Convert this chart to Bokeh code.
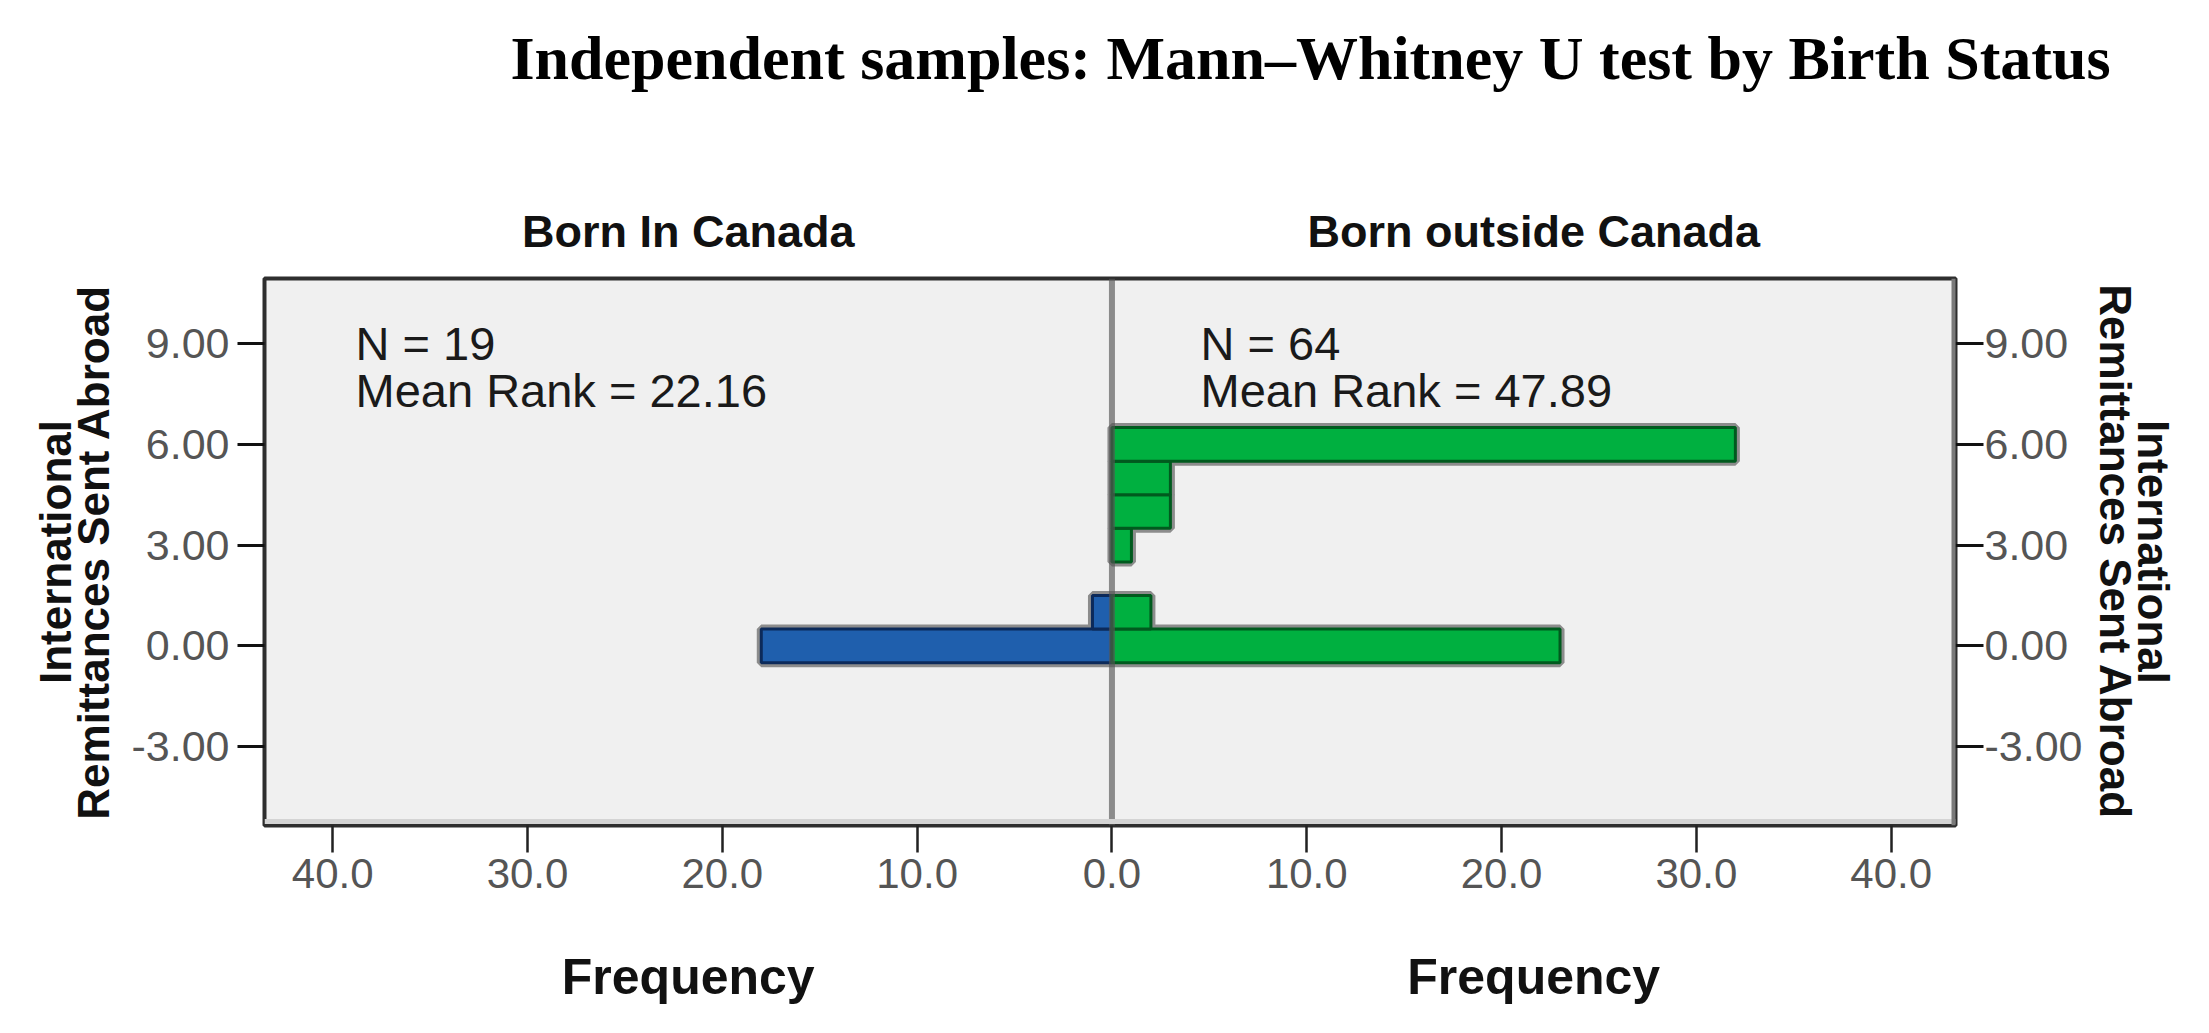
from bokeh.plotting import figure
from bokeh.models import (ColumnDataSource, Range1d, FixedTicker, LinearAxis,
                          NumeralTickFormatter, CustomJSTickFormatter, Span, Label)
from bokeh.embed import file_html
from bokeh.resources import INLINE

# ---- data ----
bins = [0, 1, 3, 4, 5, 6]                   # remittance bins (bar centres)
born_in_canada = [18, 1, 0, 0, 0, 0]        # frequencies, N = 19
born_outside_canada = [23, 2, 1, 3, 3, 32]  # frequencies, N = 64
y_ticks = [-3, 0, 3, 6, 9]
x_ticks = [-40, -30, -20, -10, 0, 10, 20, 30, 40]

title_text = "Independent samples: Mann\u2013Whitney U test by Birth Status"
group_names = ["Born In Canada", "Born outside Canada"]
group_n = ["N = 19", "N = 64"]
group_rank = ["Mean Rank = 22.16", "Mean Rank = 47.89"]
y_title = "International\nRemittances Sent Abroad"
x_title = "Frequency"

SANS = "Liberation Sans"
SERIF = "Liberation Serif"

X0, X1 = -43.5, 43.3
Y0, Y1 = -5.35, 10.94
FL, FR, FB = 264, 1955, 825   # page coords of frame left / right / bottom

p = figure(width=2193, height=1017, output_backend="svg", toolbar_location=None,
           x_range=Range1d(X0, X1), y_range=Range1d(Y0, Y1), title=None,
           min_border_left=FL, min_border_right=2193 - FR, min_border_top=278,
           min_border_bottom=1017 - FB)
p.background_fill_color = "#f0f0f0"
p.border_fill_color = "white"
p.outline_line_color = "#2e2e2e"
p.outline_line_width = 4
p.grid.visible = False

# ---- bars ----
left = ColumnDataSource(dict(
    y=[b for b, v in zip(bins, born_in_canada) if v > 0],
    left=[-v for v in born_in_canada if v > 0],
    right=[0 for v in born_in_canada if v > 0]))
right = ColumnDataSource(dict(
    y=[b for b, v in zip(bins, born_outside_canada) if v > 0],
    left=[0 for v in born_outside_canada if v > 0],
    right=[v for v in born_outside_canada if v > 0]))

for src in (left, right):
    p.hbar(y="y", left="left", right="right", height=1.0, source=src,
           fill_color=None, line_color="#8c8c8c", line_width=9)
p.hbar(y="y", left="left", right="right", height=1.0, source=left,
       fill_color="#1f5fad", line_color="#0c2a5a", line_width=3)
p.hbar(y="y", left="left", right="right", height=1.0, source=right,
       fill_color="#00b040", line_color="#005a1e", line_width=3)

# centre line
p.add_layout(Span(location=0, dimension="height", line_color="#555555",
                  line_alpha=0.65, line_width=6))
# light band above bottom border, grey right border
p.add_layout(Span(location=Y0 + 0.12, dimension="width", line_color="#d4d4d4",
                  line_width=5))
p.add_layout(Span(location=X1, dimension="height", line_color="#7a7a7a",
                  line_width=8))

# ---- axes ----
def style_y(ax, tick_out, standoff, label_standoff):
    ax.ticker = FixedTicker(ticks=y_ticks)
    ax.formatter = NumeralTickFormatter(format="0.00")
    ax.major_tick_out = tick_out
    ax.major_tick_in = 0
    ax.major_tick_line_width = 3
    ax.major_tick_line_color = "#111111"
    ax.minor_tick_line_color = None
    ax.axis_line_color = None
    ax.major_label_text_font = SANS
    ax.major_label_text_font_size = "43px"
    ax.major_label_text_color = "#555555"
    ax.major_label_standoff = standoff
    ax.axis_label = y_title
    ax.axis_label_text_font = SANS
    ax.axis_label_text_font_style = "bold"
    ax.axis_label_text_font_size = "44px"
    ax.axis_label_text_color = "#111111"
    ax.axis_label_text_line_height = 0.78
    ax.axis_label_standoff = label_standoff

style_y(p.yaxis[0], 27, 8, 10)
ry = LinearAxis()
style_y(ry, 28, 1, 5)
p.add_layout(ry, "right")

xa = p.xaxis[0]
xa.ticker = FixedTicker(ticks=x_ticks)
xa.formatter = CustomJSTickFormatter(code="return Math.abs(tick).toFixed(1)")
xa.major_tick_out = 27
xa.major_tick_in = 0
xa.major_tick_line_width = 2.5
xa.major_tick_line_color = "#222222"
xa.minor_tick_line_color = None
xa.axis_line_color = None
xa.major_label_text_font = SANS
xa.major_label_text_font_size = "42px"
xa.major_label_text_color = "#555555"
xa.major_label_standoff = 6


def page_to_x(px):
    return X0 + (px - FL) / (FR - FL) * (X1 - X0)


def text_axis(side, ticks, text_list, font, size, standoff, color="#111111"):
    ax = LinearAxis(ticker=FixedTicker(ticks=ticks),
                    formatter=CustomJSTickFormatter(
                        args=dict(names=text_list),
                        code="return tick < 0 ? names[0] : names[names.length - 1]"))
    ax.major_tick_out = 0
    ax.major_tick_in = 0
    ax.major_tick_line_color = None
    ax.minor_tick_line_color = None
    ax.axis_line_color = None
    ax.major_label_text_font = font
    ax.major_label_text_font_style = "bold"
    ax.major_label_text_font_size = size
    ax.major_label_text_color = color
    ax.major_label_standoff = standoff
    p.add_layout(ax, side)

half_centres = [(X0 + 0) / 2, (0 + X1) / 2]
text_axis("above", half_centres, group_names, SANS, "45px", 22)
text_axis("above", [page_to_x(1310)], [title_text], SERIF, "62px", 111, "#000000")
text_axis("below", half_centres, [x_title, x_title], SANS, "50px", 58)

# ---- N / mean rank texts (screen units from frame bottom-left) ----
def lab(text, px, py, size, color="#1a1a1a"):
    p.add_layout(Label(x=px - FL, y=FB - py, x_units="screen", y_units="screen",
                       text=text, text_font=SANS, text_font_size=size,
                       text_align="left", text_baseline="alphabetic",
                       text_color=color))

for nx, n_txt, r_txt in zip([355, 1200], group_n, group_rank):
    lab(n_txt, nx, 343, "47px")
    lab(r_txt, nx, 390, "47px")

open("out.html", "w").write(file_html(p, INLINE))
